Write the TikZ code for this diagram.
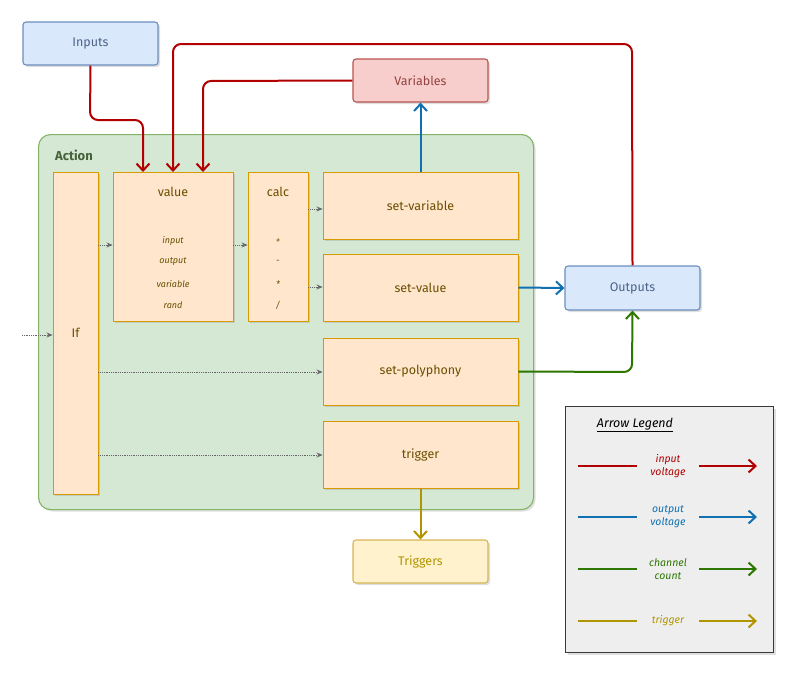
\documentclass[tikz,border=0pt]{standalone}
\usepackage{fontspec}
\setmainfont{Fira Sans}
\usetikzlibrary{shadows,arrows.meta}
\definecolor{ofill}{HTML}{FFE6CC}\definecolor{oline}{HTML}{D79B00}
\definecolor{otext}{HTML}{6B4E00}
\definecolor{bfill}{HTML}{DAE8FC}\definecolor{bline}{HTML}{6C8EBF}
\definecolor{rfill}{HTML}{F8CECC}\definecolor{rline}{HTML}{B85450}
\definecolor{yfill}{HTML}{FFF2CC}\definecolor{yline}{HTML}{D6B656}
\definecolor{gfill}{HTML}{D5E8D4}\definecolor{gline}{HTML}{82B366}
\definecolor{lfill}{HTML}{EEEEEE}\definecolor{lline}{HTML}{36393D}
\definecolor{cred}{HTML}{B20000}\definecolor{cblue}{HTML}{1070B0}
\definecolor{cgreen}{HTML}{2D7600}\definecolor{colive}{HTML}{B09500}
\tikzset{
 box/.style={draw=oline,fill=ofill,line width=0.9pt,text=otext,font=\fontsize{12.5}{15}\selectfont,drop shadow={opacity=0.25,shadow xshift=2pt,shadow yshift=-2pt}},
 term/.style={rounded corners=3pt,line width=1.1pt,font=\fontsize{12.5}{15}\selectfont,drop shadow={opacity=0.25,shadow xshift=2pt,shadow yshift=-2pt}},
 flow/.style={line width=2pt,rounded corners=8pt,-{Straight Barb[length=7pt,width=13pt]}},
 dot/.style={densely dotted,draw=gray!80!black,line width=0.8pt,-{Stealth[length=6pt,width=5pt]}},
 small/.style={font=\fontsize{9}{10}\itshape\selectfont,text=otext},
}
\begin{document}
\begin{tikzpicture}[x=1pt,y=-1pt]
\useasboundingbox[fill=white] (0,0) rectangle (800,680);
\node[term,draw=gline,fill=gfill,rounded corners=12pt,minimum width=495pt,minimum height=375pt,anchor=north west] (action) at (38,134) {};
\node[text=gline!55!black,font=\bfseries\fontsize{13}{15}\selectfont] (alabel) at (74,155) {Action};
\node[term,draw=bline,fill=bfill,text=bline!70!black,minimum width=135pt,minimum height=43pt] (inputs) at (90.5,43.5) {Inputs};
\node[term,draw=rline,fill=rfill,text=rline!80!black,minimum width=135pt,minimum height=43pt] (vars) at (420.5,80.5) {Variables};
\node[term,draw=bline,fill=bfill,text=bline!70!black,minimum width=135pt,minimum height=44pt] (outputs) at (632.5,288) {Outputs};
\node[term,draw=yline,fill=yfill,text=colive,minimum width=135pt,minimum height=43pt] (triggers) at (420.5,561.5) {Triggers};
\node[box,minimum width=45pt,minimum height=322pt] (if) at (75.5,333) {If};
\node[box,minimum width=120pt,minimum height=149pt] (value) at (173,246.5) {};
\node[text=otext,font=\fontsize{12.5}{15}\selectfont] (vt) at (173,192) {value};
\node[small] (v1) at (173,241) {input};
\node[small] (v2) at (173,262) {output};
\node[small] (v3) at (173,284) {variable};
\node[small] (v4) at (173,305) {rand};
\node[box,minimum width=60pt,minimum height=149pt] (calc) at (278,246.5) {};
\node[text=otext,font=\fontsize{12.5}{15}\selectfont] (ct) at (278,192) {calc};
\node[small] (c1) at (278,241) {+};
\node[small] (c2) at (278,262) {-};
\node[small] (c3) at (278,284) {*};
\node[small] (c4) at (278,305) {/};
\node[box,minimum width=195pt,minimum height=67pt] (setvar) at (420.5,205.5) {set-variable};
\node[box,minimum width=195pt,minimum height=67pt] (setval) at (420.5,287.5) {set-value};
\node[box,minimum width=195pt,minimum height=67pt] (setpoly) at (420.5,371.5) {set-polyphony};
\node[box,minimum width=195pt,minimum height=67pt] (trig) at (420.5,454.5) {trigger};
% dotted
\coordinate (start) at (22,335);
\draw[dot] (start) -- (if.west|-start);
\draw[dot] (if.east|-0,245) -- (value.west|-0,245);
\draw[dot] (value.east|-0,245) -- (calc.west|-0,245);
\draw[dot] (calc.east|-0,209) -- (setvar.west|-0,209);
\draw[dot] (calc.east|-0,287) -- (setval.west|-0,287);
\draw[dot] (if.east|-0,372) -- (setpoly.west|-0,372);
\draw[dot] (if.east|-0,455) -- (trig.west|-0,455);
% flows
\draw[flow,cred] (inputs.south) -- (90,120) -- (143,120) -- (143,172);
\draw[flow,cred] (outputs.north) -- (632,44) -- (173,44) -- (173,172);
\draw[flow,cred] (vars.west) -- (203,81) -- (203,172);
\draw[flow,cblue] (setvar.north) -- (vars.south);
\draw[flow,cblue] (setval.east) -- (outputs.west);
\draw[flow,cgreen] (setpoly.east) -- (632,372) -- (outputs.south);
\draw[flow,colive] (trig.south) -- (triggers.north);
% legend
\node[draw=lline,fill=lfill,line width=1pt,minimum width=208pt,minimum height=246pt,anchor=north west,drop shadow={opacity=0.25,shadow xshift=2pt,shadow yshift=-2pt}] (leg) at (565,406) {};
\node[font=\itshape\fontsize{12.5}{15}\selectfont] (lt) at (635,425) {\underline{Arrow Legend}};
\foreach \y/\c/\t [count=\i] in {466/cred/{input\\voltage},517/cblue/{output\\voltage},569/cgreen/{channel\\count},621/colive/{trigger}}{
 \node[text=\c,align=center,font=\itshape\fontsize{10.5}{13}\selectfont] (ll\i) at (668,\y) {\t};
 \coordinate (la\i) at (578,\y);
 \coordinate (lb\i) at (757,\y);
 \draw[\c,line width=2pt] (la\i) -- (637,\y);
 \draw[flow,\c] (699,\y) -- (lb\i);
}
\end{tikzpicture}
\end{document}
